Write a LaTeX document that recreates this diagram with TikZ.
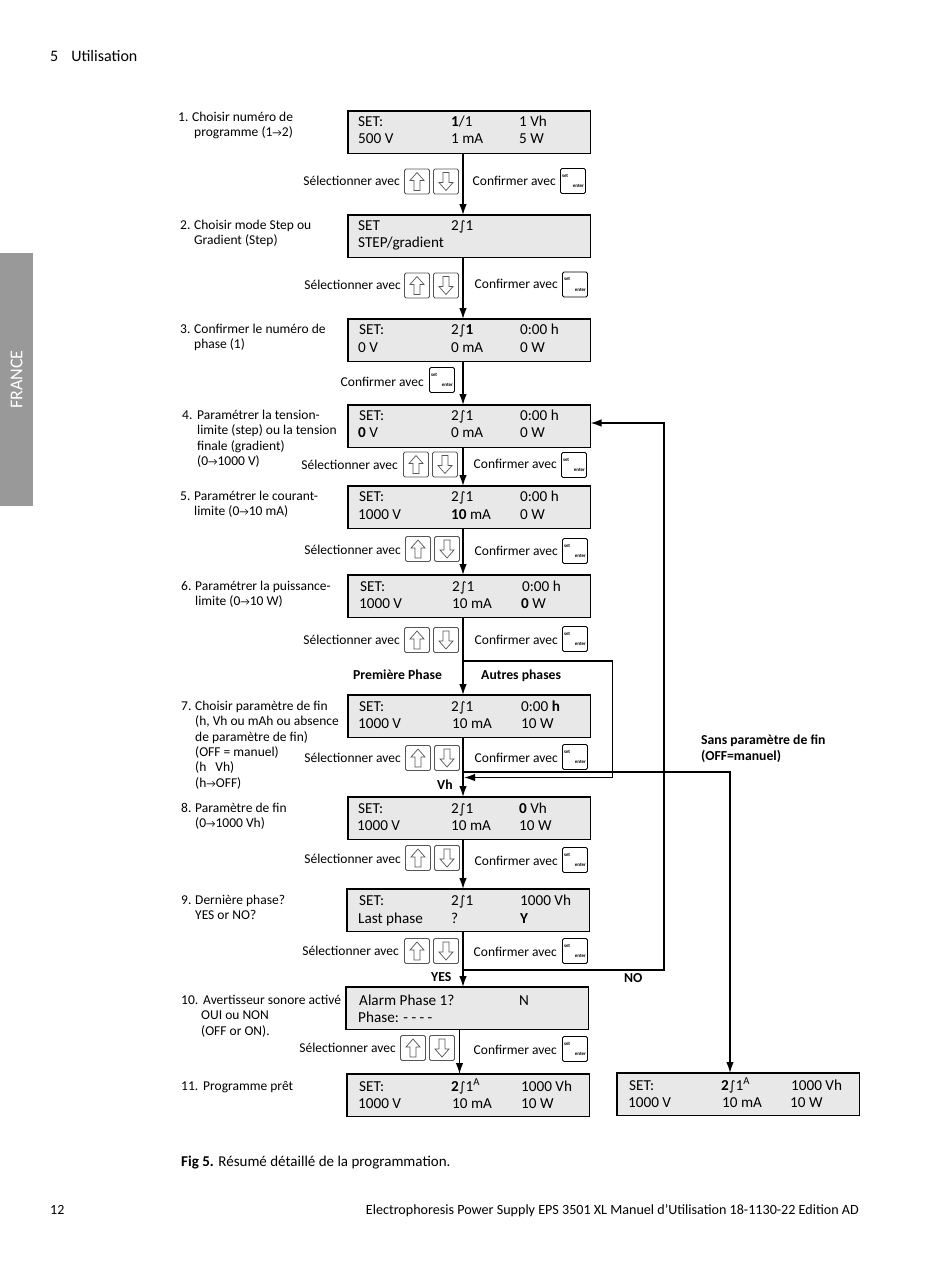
\documentclass[tikz,border=0pt]{standalone}
\usepackage{fontspec}
\setmainfont{Carlito}
\newfontfamily\symfont{DejaVu Sans}
\usetikzlibrary{arrows.meta}
\definecolor{lcdgray}{HTML}{E8E8E8}
\definecolor{tabgray}{HTML}{999999}
\definecolor{keygray}{HTML}{555555}
\newcommand{\ramp}{{\symfont\fontsize{13}{13}\selectfont ∫}}
\newcommand{\sa}{{\fontsize{10.5}{11}\selectfont→}}
\newcommand{\nr}[1]{\vphantom{h}#1}
\tikzset{
  screen/.style={draw,line width=1.8pt,fill=lcdgray,minimum width=242.5pt,minimum height=42.5pt,inner sep=0pt,outer sep=0pt,anchor=north west},
  lcd/.style={inner sep=0pt,anchor=base west,font=\fontsize{15.2}{17}\selectfont},
  note/.style={inner sep=0pt,anchor=north west,align=left,yshift=-2pt,font=\fontsize{13.5}{15.3}\selectfont},
  hint/.style={inner sep=0pt,anchor=base east,font=\fontsize{13.5}{16}\selectfont},
  tag/.style={inner sep=0pt,anchor=base west,font=\fontsize{13.7}{16}\selectfont\bfseries},
  upkey/.style={draw=keygray,line width=0.8pt,rounded corners=1.5pt,minimum size=25pt,inner sep=0pt,
    path picture={\draw[line width=0.7pt,sharp corners,shift={(path picture bounding box.center)}]
      (0pt,9pt) -- (7pt,1pt) -- (3pt,1pt) -- (3pt,-9pt) -- (-3pt,-9pt) -- (-3pt,1pt) -- (-7pt,1pt) -- cycle;}},
  downkey/.style={draw=keygray,line width=0.8pt,rounded corners=1.5pt,minimum size=25pt,inner sep=0pt,
    path picture={\draw[line width=0.7pt,sharp corners,shift={(path picture bounding box.center)}]
      (0pt,-9pt) -- (7pt,-1pt) -- (3pt,-1pt) -- (3pt,9pt) -- (-3pt,9pt) -- (-3pt,-1pt) -- (-7pt,-1pt) -- cycle;}},
  setkey/.style={draw,line width=0.9pt,rounded corners=1.5pt,minimum size=25pt,inner sep=1pt,text width=22pt,align=left,
    font=\fontsize{5}{5.5}\selectfont\bfseries},
  flow/.style={line width=1.4pt,-{Latex[length=11pt,width=7.5pt]}}
}
\newcommand{\setenter}{set\\[5pt]\hfill enter\hspace*{1pt}}
\begin{document}
\begin{tikzpicture}[x=1pt,y=-1pt]
  \useasboundingbox (0,0) rectangle (950,1266);
  % page furniture
  \node[fill=tabgray,minimum width=33pt,minimum height=253pt,inner sep=0pt,anchor=north west] (tab) at (0,253) {};
  \node[rotate=90,text=white,inner sep=0pt,font=\fontsize{18}{20}\selectfont] (france) at (tab.center) {FRANCE};
  \node[inner sep=0pt,anchor=base west,font=\fontsize{16}{18}\selectfont] (head) at (50,61) {5\hspace{13pt}Utilisation};
  \node[inner sep=0pt,anchor=base west,font=\fontsize{14}{16}\selectfont] (pageno) at (50,1214) {12};
  \node[inner sep=0pt,anchor=base east,font=\fontsize{14.1}{16}\selectfont] (foot) at (859,1214) {Electrophoresis Power Supply EPS 3501 XL Manuel d’Utilisation 18-1130-22 Edition AD};
  \node[inner sep=0pt,anchor=base west,font=\fontsize{15}{16}\selectfont] (fig) at (181,1166) {\textbf{Fig 5.} Résumé détaillé de la programmation.};
  % screens
  \node[screen] (s1) at (348,111) {};
  \node[screen] (s2) at (348,215) {};
  \node[screen] (s3) at (348,319) {};
  \node[screen] (s4) at (348,405) {};
  \node[screen] (s5) at (348,486) {};
  \node[screen] (s6) at (348,575) {};
  \node[screen] (s7) at (348,695) {};
  \node[screen] (s8) at (348,797) {};
  \node[screen] (s9) at (347,889) {};
  \node[screen] (s10) at (346,987) {};
  \node[screen] (s11) at (347,1074) {};
  \node[screen] (s12) at (617,1073) {};
  % screen texts
  \node[lcd] (s1a) at (358,126) {SET:};
  \node[lcd] (s1b) at (451,126) {\textbf{1}/1};
  \node[lcd] (s1c) at (519,126) {1 Vh};
  \node[lcd] (s1d) at (358,143) {500 V};
  \node[lcd] (s1e) at (451,143) {1 mA};
  \node[lcd] (s1f) at (519,143) {5 W};
  \node[lcd] (s2a) at (358,230) {SET};
  \node[lcd] (s2b) at (451,230) {2\ramp1};
  \node[lcd] (s2d) at (358,247) {STEP/gradient};
  \node[lcd] (s3a) at (359,334) {SET:};
  \node[lcd] (s3b) at (451,334) {2\ramp\textbf{1}};
  \node[lcd] (s3c) at (520,334) {0:00 h};
  \node[lcd] (s3d) at (358,352) {0 V};
  \node[lcd] (s3e) at (451,352) {0 mA};
  \node[lcd] (s3f) at (520,352) {0 W};
  \node[lcd] (s4a) at (359,420) {SET:};
  \node[lcd] (s4b) at (451,420) {2\ramp1};
  \node[lcd] (s4c) at (520,420) {0:00 h};
  \node[lcd] (s4d) at (358,437) {\textbf{0} V};
  \node[lcd] (s4e) at (451,437) {0 mA};
  \node[lcd] (s4f) at (520,437) {0 W};
  \node[lcd] (s5a) at (359,501) {SET:};
  \node[lcd] (s5b) at (451,501) {2\ramp1};
  \node[lcd] (s5c) at (520,501) {0:00 h};
  \node[lcd] (s5d) at (358,519) {1000 V};
  \node[lcd] (s5e) at (451,519) {\textbf{10} mA};
  \node[lcd] (s5f) at (520,519) {0 W};
  \node[lcd] (s6a) at (360,591) {SET:};
  \node[lcd] (s6b) at (452,591) {2\ramp1};
  \node[lcd] (s6c) at (522,591) {0:00 h};
  \node[lcd] (s6d) at (359,608) {1000 V};
  \node[lcd] (s6e) at (452,608) {10 mA};
  \node[lcd] (s6f) at (521,608) {\textbf{0} W};
  \node[lcd] (s7a) at (359,711) {SET:};
  \node[lcd] (s7b) at (451,711) {2\ramp1};
  \node[lcd] (s7c) at (521,711) {0:00 \textbf{h}};
  \node[lcd] (s7d) at (358,728) {1000 V};
  \node[lcd] (s7e) at (452,728) {10 mA};
  \node[lcd] (s7f) at (521,728) {10 W};
  \node[lcd] (s8a) at (358,813) {SET:};
  \node[lcd] (s8b) at (451,813) {2\ramp1};
  \node[lcd] (s8c) at (519,813) {\textbf{0} Vh};
  \node[lcd] (s8d) at (357,830) {1000 V};
  \node[lcd] (s8e) at (451,830) {10 mA};
  \node[lcd] (s8f) at (519,830) {10 W};
  \node[lcd] (s9a) at (359,905) {SET:};
  \node[lcd] (s9b) at (451,905) {2\ramp1};
  \node[lcd] (s9c) at (520,905) {1000 Vh};
  \node[lcd] (s9d) at (358,923) {Last phase};
  \node[lcd] (s9e) at (451,923) {?};
  \node[lcd] (s9f) at (520,923) {\textbf{Y}};
  \node[lcd] (s10a) at (359,1005) {Alarm Phase 1?};
  \node[lcd] (s10c) at (519,1005) {N};
  \node[lcd] (s10d) at (358,1022) {Phase: - - - -};
  \node[lcd] (s11a) at (359,1091) {SET:};
  \node[lcd] (s11b) at (451,1091) {\textbf{2}\ramp1\textsuperscript{A}};
  \node[lcd] (s11c) at (521,1091) {1000 Vh};
  \node[lcd] (s11d) at (358,1108) {1000 V};
  \node[lcd] (s11e) at (452,1108) {10 mA};
  \node[lcd] (s11f) at (521,1108) {10 W};
  \node[lcd] (s12a) at (629,1090) {SET:};
  \node[lcd] (s12b) at (721,1090) {\textbf{2}\ramp1\textsuperscript{A}};
  \node[lcd] (s12c) at (791,1090) {1000 Vh};
  \node[lcd] (s12d) at (628,1107) {1000 V};
  \node[lcd] (s12e) at (722,1107) {10 mA};
  \node[lcd] (s12f) at (790,1107) {10 W};
  % step notes
  \node[note] (n1) at (178,110) {\nr{1.}};
  \node[note] (t1) at (192,110) {Choisir numéro de\\\hspace*{2pt}programme (1\sa2)};
  \node[note] (n2) at (180,218) {\nr{2.}};
  \node[note] (t2) at (194,218) {Choisir mode Step ou\\Gradient (Step)};
  \node[note] (n3) at (180,322) {\nr{3.}};
  \node[note] (t3) at (194,322) {Confirmer le numéro de\\phase (1)};
  \node[note] (n4) at (182,408) {\nr{4.}};
  \node[note] (t4) at (197,408) {Paramétrer la tension-\\limite (step) ou la tension\\finale (gradient)\\(0\sa1000 V)};
  \node[note] (n5) at (180,489) {\nr{5.}};
  \node[note] (t5) at (194,489) {Paramétrer le courant-\\limite (0\sa10 mA)};
  \node[note] (n6) at (181,579) {\nr{6.}};
  \node[note] (t6) at (195,579) {Paramétrer la puissance-\\limite (0\sa10 W)};
  \node[note] (n7) at (181,699) {\nr{7.}};
  \node[note] (t7) at (195,699) {Choisir paramètre de fin\\(h, Vh ou mAh ou absence\\de paramètre de fin)\\(OFF = manuel)\\(h\hspace{9pt}Vh)\\(h\sa OFF)};
  \node[note] (n8) at (181,801) {\nr{8.}};
  \node[note] (t8) at (195,801) {Paramètre de fin\\(0\sa1000 Vh)};
  \node[note] (n9) at (181,893) {\nr{9.}};
  \node[note] (t9) at (195,893) {Dernière phase?\\YES or NO?};
  \node[note] (n10) at (181,993) {\nr{10.}};
  \node[note] (t10) at (201,993) {\hspace*{2pt}Avertisseur sonore activé\\OUI ou NON\\(OFF or ON).};
  \node[note] (n11) at (181,1079) {\nr{11.}};
  \node[note] (t11) at (203,1079) {Programme prêt};
  % hints and keys
  \node[hint] (sel1) at (400,185) {Sélectionner avec};
  \node[upkey] (up1) at (417,181.5) {};
  \node[downkey] (dn1) at (446,181.5) {};
  \node[hint] (ok1) at (556,185) {Confirmer avec};
  \node[setkey] (key1) at (573,181) {\setenter};
  \node[hint] (sel2) at (401,289) {Sélectionner avec};
  \node[upkey] (up2) at (417,285.5) {};
  \node[downkey] (dn2) at (446,285.5) {};
  \node[hint] (ok2) at (558,288) {Confirmer avec};
  \node[setkey] (key2) at (575,284.5) {\setenter};
  \node[hint] (ok3) at (424,386) {Confirmer avec};
  \node[setkey] (key3) at (442,380) {\setenter};
  \node[hint] (sel4) at (398,469) {Sélectionner avec};
  \node[upkey] (up4) at (416,464.5) {};
  \node[downkey] (dn4) at (445,464.5) {};
  \node[hint] (ok4) at (557,468) {Confirmer avec};
  \node[setkey] (key4) at (574,465) {\setenter};
  \node[hint] (sel5) at (401,554) {Sélectionner avec};
  \node[upkey] (up5) at (418,549) {};
  \node[downkey] (dn5) at (447,549) {};
  \node[hint] (ok5) at (558,555) {Confirmer avec};
  \node[setkey] (key5) at (575,551) {\setenter};
  \node[hint] (sel6) at (400,644) {Sélectionner avec};
  \node[upkey] (up6) at (417,640) {};
  \node[downkey] (dn6) at (446,640) {};
  \node[hint] (ok6) at (558,644) {Confirmer avec};
  \node[setkey] (key6) at (575,639) {\setenter};
  \node[hint] (sel7) at (401,762) {Sélectionner avec};
  \node[upkey] (up7) at (418,758) {};
  \node[downkey] (dn7) at (447,758) {};
  \node[hint] (ok7) at (558,762) {Confirmer avec};
  \node[setkey] (key7) at (575,757) {\setenter};
  \node[hint] (sel8) at (401,863) {Sélectionner avec};
  \node[upkey] (up8) at (418,858) {};
  \node[downkey] (dn8) at (447,858) {};
  \node[hint] (ok8) at (558,865) {Confirmer avec};
  \node[setkey] (key8) at (575,860) {\setenter};
  \node[hint] (sel9) at (399,955) {Sélectionner avec};
  \node[upkey] (up9) at (417,951) {};
  \node[downkey] (dn9) at (446,951) {};
  \node[hint] (ok9) at (557,956) {Confirmer avec};
  \node[setkey] (key9) at (575,951) {\setenter};
  \node[hint] (sel10) at (396,1052) {Sélectionner avec};
  \node[upkey] (up10) at (413,1048) {};
  \node[downkey] (dn10) at (442,1048) {};
  \node[hint] (ok10) at (557,1054) {Confirmer avec};
  \node[setkey] (key10) at (575,1049) {\setenter};
  % branch labels
  \node[tag] (first) at (353,679) {Première Phase};
  \node[tag] (other) at (481,679) {Autres phases};
  \node[tag] (vh) at (437,789) {Vh};
  \node[tag] (yes) at (431,981) {YES};
  \node[tag] (no) at (624,982) {NO};
  \node[tag,anchor=north west,align=left] (manual) at (701,735) {Sans paramètre de fin\\(OFF=manuel)};
  % connector corners
  \coordinate (spine) at (463,0);
  \coordinate (low) at (459.5,0);
  \coordinate (right) at (730,0);
  \coordinate (c1) at (463,661);
  \coordinate (c2) at (612.5,661);
  \coordinate (c3) at (612.5,777.5);
  \coordinate (c4) at (464,777.5);
  \coordinate (c5) at (730,772);
  \coordinate (c6) at (463,772);
  \coordinate (c7) at (463,970);
  \coordinate (c8) at (664,970);
  \coordinate (c9) at (664,423);
  % connectors
  \draw[flow] (s1.south -| spine) -- (s2.north -| spine);
  \draw[flow] (s2.south -| spine) -- (s3.north -| spine);
  \draw[flow] (s3.south -| spine) -- (s4.north -| spine);
  \draw[flow] (s4.south -| spine) -- (s5.north -| spine);
  \draw[flow] (s5.south -| spine) -- (s6.north -| spine);
  \draw[flow] (s6.south -| spine) -- (s7.north -| spine);
  \draw[flow] (s7.south -| spine) -- (s8.north -| spine);
  \draw[flow] (s8.south -| spine) -- (s9.north -| spine);
  \draw[flow] (s9.south -| spine) -- (s10.north -| spine);
  \draw[flow] (s10.south -| low) -- (s11.north -| low);
  \draw[flow] (c1) -- (c2) -- (c3) -- (c4);
  \draw[flow] (c6) -- (c5) -- (s12.north -| right);
  \draw[flow] (c7) -- (c8) -- (c9) -- (c9 -| s4.east);
\end{tikzpicture}
\end{document}
